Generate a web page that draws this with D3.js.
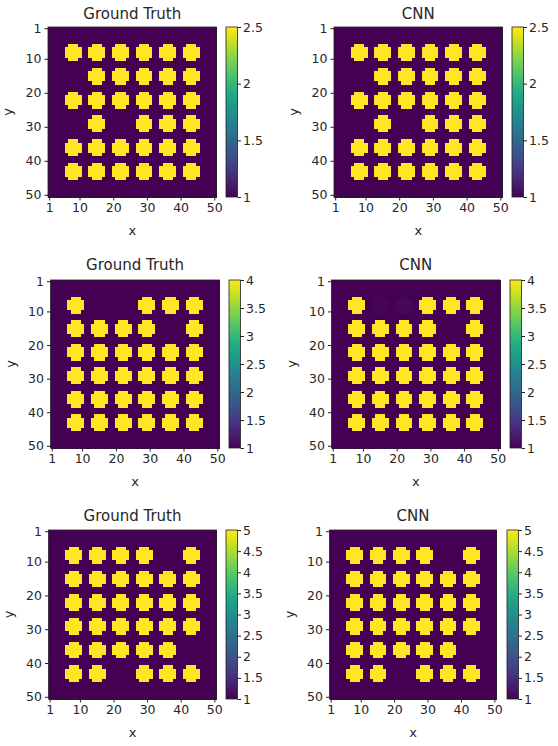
<!DOCTYPE html>
<html>
<head>
<meta charset="utf-8">
<script src="https://cdn.jsdelivr.net/npm/d3@7"></script>
<style>
  body { margin: 0; background: #fff; }
  svg { display: block; }
  text { font-family: "DejaVu Sans", sans-serif; fill: #262626; }
</style>
</head>
<body>
<div id="chart"></div>
<script>
// grid size and tick labels
var gridN = 50;
var axisTicks = [1, 10, 20, 30, 40, 50];

// blob centres (1-based cell index) along x and y
var blobCentres = [8, 15, 22, 29, 36, 43];

// blob footprint, 5x5 cells
var blobMask = [
  [0, 1, 1, 1, 0],
  [1, 1, 1, 1, 1],
  [1, 1, 1, 1, 1],
  [1, 1, 1, 1, 1],
  [0, 1, 1, 1, 0]
];

// which blob slots are filled (rows top to bottom), one per figure row
var occupancy1 = [
  [1, 1, 1, 1, 1, 1],
  [0, 1, 1, 1, 1, 1],
  [1, 1, 1, 1, 1, 1],
  [0, 1, 0, 1, 1, 1],
  [1, 1, 1, 1, 1, 1],
  [1, 1, 1, 1, 1, 1]
];
var occupancy2 = [
  [1, 0, 0, 1, 1, 1],
  [1, 1, 1, 1, 0, 1],
  [1, 1, 1, 1, 1, 1],
  [1, 1, 1, 1, 1, 1],
  [1, 1, 1, 1, 1, 1],
  [1, 1, 1, 1, 1, 1]
];
var occupancy3 = [
  [1, 1, 1, 1, 0, 1],
  [1, 1, 1, 1, 1, 1],
  [1, 1, 1, 1, 1, 1],
  [1, 1, 1, 1, 1, 1],
  [1, 1, 1, 1, 1, 0],
  [1, 1, 0, 1, 1, 1]
];

var backgroundValue = 1;
var maxValues = [2.5, 4, 5];

// colorbar tick labels per row
var cbTicks1 = [1, 1.5, 2, 2.5];
var cbTicks2 = [1, 1.5, 2, 2.5, 3, 3.5, 4];
var cbTicks3 = [1, 1.5, 2, 2.5, 3, 3.5, 4, 4.5, 5];

// faint leftovers in CNN output: [row, slot row, slot col, value]
var cnnGhosts = [
  [1, 0, 1, 1.04],
  [1, 0, 2, 1.07],
  [2, 5, 2, 1.03]
];

var titles = ["Ground Truth", "CNN"];

// panel boxes measured from the layout
var panels = [
  {x0: 48,   x1: 216.5, y0: 27,  y1: 197, cb0: 226, cb1: 237.5, ty: 19},
  {x0: 334,  x1: 502.5, y0: 27,  y1: 197, cb0: 512, cb1: 523.5, ty: 19},
  {x0: 50.5, x1: 219.5, y0: 280, y1: 448, cb0: 229, cb1: 240.5, ty: 270},
  {x0: 331.5,x1: 500,   y0: 280, y1: 448, cb0: 510, cb1: 521.5, ty: 270},
  {x0: 48.5, x1: 216.5, y0: 530, y1: 699, cb0: 226, cb1: 237.5, ty: 521},
  {x0: 329.5,x1: 496.5, y0: 530, y1: 699, cb0: 507, cb1: 518.5, ty: 521}
];

var occupancies = [occupancy1, occupancy2, occupancy3];
var cbTicks = [cbTicks1, cbTicks2, cbTicks3];

var W = 558, H = 746;
var svg = d3.select("#chart").append("svg")
  .attr("width", W).attr("height", H);

var defs = svg.append("defs");
var grad = defs.append("linearGradient")
  .attr("id", "viridisGrad")
  .attr("x1", 0).attr("y1", 1).attr("x2", 0).attr("y2", 0);
d3.range(0, 1.0001, 0.05).forEach(function(t) {
  grad.append("stop")
    .attr("offset", t)
    .attr("stop-color", d3.interpolateViridis(t));
});

function buildGrid(row, isCnn) {
  var occ = occupancies[row];
  var vmax = maxValues[row];
  var grid = [];
  for (var j = 1; j <= gridN; j++) {
    for (var i = 1; i <= gridN; i++) {
      grid.push({x: i, y: j, v: backgroundValue});
    }
  }
  function stamp(r, c, v) {
    var cx = blobCentres[c], cy = blobCentres[r];
    blobMask.forEach(function(mrow, dy) {
      mrow.forEach(function(m, dx) {
        if (!m) return;
        var x = cx + dx - 2, y = cy + dy - 2;
        grid[(y - 1) * gridN + (x - 1)].v = v;
      });
    });
  }
  occ.forEach(function(r, ri) {
    r.forEach(function(f, ci) {
      if (f) stamp(ri, ci, vmax);
    });
  });
  if (isCnn) {
    cnnGhosts.forEach(function(g) {
      if (g[0] === row) stamp(g[1], g[2], g[3]);
    });
  }
  return grid;
}

panels.forEach(function(p, k) {
  var row = Math.floor(k / 2);
  var isCnn = k % 2 === 1;
  var vmax = maxValues[row];
  var grid = buildGrid(row, isCnn);

  var cells = d3.range(1, gridN + 1);
  var x = d3.scaleBand().domain(cells).range([p.x0, p.x1]);
  var y = d3.scaleBand().domain(cells).range([p.y0, p.y1]);
  var color = d3.scaleSequential(d3.interpolateViridis).domain([backgroundValue, vmax]);

  var g = svg.append("g");

  // base layer in the background colour so cell seams don't show white
  g.append("rect")
    .attr("x", p.x0).attr("y", p.y0)
    .attr("width", p.x1 - p.x0).attr("height", p.y1 - p.y0)
    .attr("fill", color(backgroundValue));

  g.append("g")
    .attr("shape-rendering", "crispEdges")
    .selectAll("rect")
    .data(grid)
    .join("rect")
    .attr("x", function(d) { return x(d.x); })
    .attr("y", function(d) { return y(d.y); })
    .attr("width", x.bandwidth() + 0.5)
    .attr("height", y.bandwidth() + 0.5)
    .attr("fill", function(d) { return color(d.v); });

  g.append("rect")
    .attr("x", p.x0).attr("y", p.y0)
    .attr("width", p.x1 - p.x0).attr("height", p.y1 - p.y0)
    .attr("fill", "none").attr("stroke", "#222").attr("stroke-width", 0.8);

  var xAxis = g.append("g")
    .attr("transform", "translate(0," + p.y1 + ")")
    .call(d3.axisBottom(x).tickValues(axisTicks).tickSize(3.5).tickPadding(3));
  var yAxis = g.append("g")
    .attr("transform", "translate(" + p.x0 + ",0)")
    .call(d3.axisLeft(y).tickValues(axisTicks).tickSize(3.5).tickPadding(3));
  [xAxis, yAxis].forEach(function(a) {
    a.select(".domain").remove();
    a.selectAll("line").attr("stroke", "#222");
    a.selectAll("text")
      .attr("font-size", "12.5px")
      .attr("font-family", "DejaVu Sans")
      .attr("fill", "#262626");
  });

  g.append("text")
    .attr("x", (p.x0 + p.x1) / 2)
    .attr("y", p.ty)
    .attr("text-anchor", "middle")
    .attr("font-size", "15px")
    .text(titles[k % 2]);

  g.append("text")
    .attr("x", (p.x0 + p.x1) / 2)
    .attr("y", p.y1 + 38)
    .attr("text-anchor", "middle")
    .attr("font-size", "13px")
    .text("x");

  g.append("text")
    .attr("transform", "translate(" + (p.x0 - 36) + "," + ((p.y0 + p.y1) / 2) + ") rotate(-90)")
    .attr("text-anchor", "middle")
    .attr("font-size", "13px")
    .text("y");

  // colorbar
  g.append("rect")
    .attr("x", p.cb0).attr("y", p.y0)
    .attr("width", p.cb1 - p.cb0).attr("height", p.y1 - p.y0)
    .attr("fill", "url(#viridisGrad)")
    .attr("stroke", "#222").attr("stroke-width", 0.8);

  var cbScale = d3.scaleLinear().domain([backgroundValue, vmax]).range([p.y1, p.y0]);
  var cbAxis = g.append("g")
    .attr("transform", "translate(" + p.cb1 + ",0)")
    .call(d3.axisRight(cbScale).tickValues(cbTicks[row]).tickFormat(function(d) { return d; })
      .tickSize(3.5).tickPadding(2));
  cbAxis.select(".domain").remove();
  cbAxis.selectAll("line").attr("stroke", "#222");
  cbAxis.selectAll("text")
    .attr("font-size", "12.5px")
    .attr("font-family", "DejaVu Sans")
    .attr("fill", "#262626");
});
</script>
</body>
</html>
